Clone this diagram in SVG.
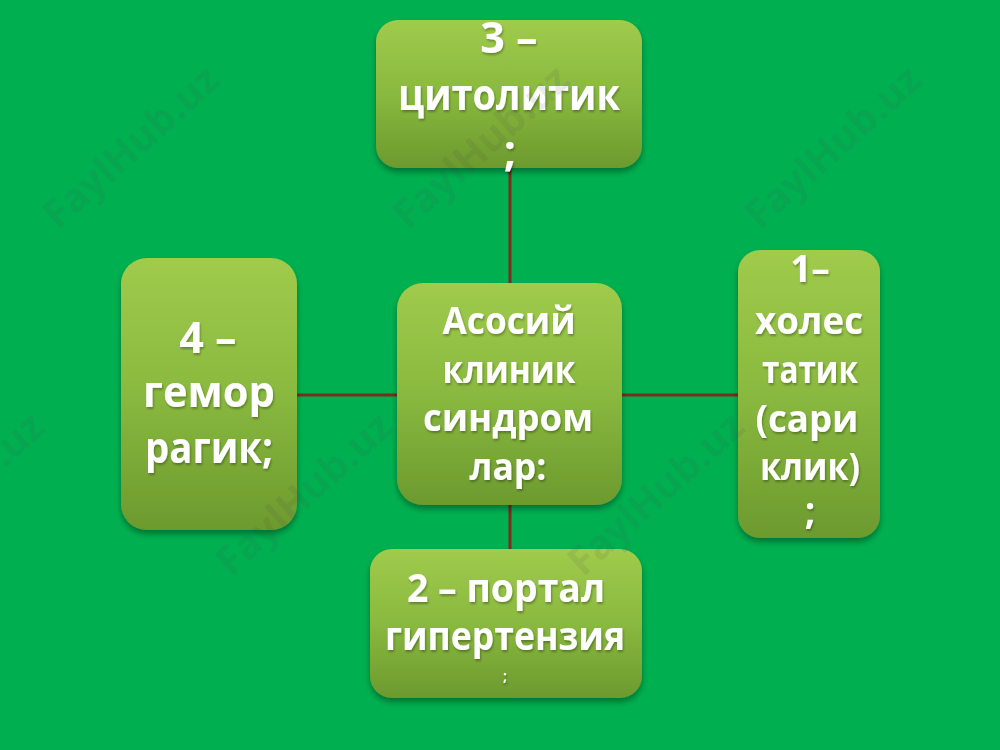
<svg xmlns="http://www.w3.org/2000/svg" width="1000" height="750" viewBox="0 0 1000 750">
<defs>
<linearGradient id="g" x1="0" y1="0" x2="0" y2="1">
<stop offset="0" stop-color="#a0cb4c"/>
<stop offset="0.5" stop-color="#89b93f"/>
<stop offset="1" stop-color="#6c9a2e"/>
</linearGradient>
<filter id="sh" x="-10%" y="-10%" width="120%" height="125%">
<feDropShadow dx="0" dy="4" stdDeviation="3" flood-color="#000" flood-opacity="0.35"/>
</filter>
<filter id="ts" x="-5%" y="-5%" width="110%" height="120%">
<feDropShadow dx="1" dy="2" stdDeviation="1" flood-color="#000" flood-opacity="0.3"/>
</filter>
</defs>
<style>
.box{fill:url(#g);filter:url(#sh)}
.t{font-family:"Open Sans","Noto Sans","DejaVu Sans",sans-serif;font-weight:bold;fill:#fff;text-anchor:middle;filter:url(#ts)}
.wm{font-family:"Open Sans","Liberation Sans",sans-serif;font-weight:bold;font-size:40px;fill:#4a4a4a;opacity:0.1;text-anchor:middle}
.c{stroke:#7a2e1c;stroke-width:3;fill:none}
</style>
<rect width="1000" height="750" fill="#00b050"/>
<g id="connectors">
<line class="c" x1="510" y1="166" x2="510" y2="285"/>
<line class="c" x1="510" y1="503" x2="510" y2="551"/>
<line class="c" x1="295" y1="395" x2="399" y2="395"/>
<line class="c" x1="620" y1="395" x2="740" y2="395"/>
</g>
<g id="n3">
<rect class="box" x="376" y="20" width="266" height="148" rx="22"/>
<text class="t" x="509" y="53" font-size="43">3 –</text>
<text class="t" x="509" y="110" font-size="43" textLength="222" lengthAdjust="spacingAndGlyphs">цитолитик</text>
<text class="t" x="510" y="166" font-size="43">;</text>
</g>
<g id="n0">
<rect class="box" x="397" y="283" width="225" height="222" rx="26"/>
<text class="t" x="509" y="334" font-size="38" textLength="133" lengthAdjust="spacingAndGlyphs">Асосий</text>
<text class="t" x="509" y="383" font-size="38" textLength="133" lengthAdjust="spacingAndGlyphs">клиник</text>
<text class="t" x="508" y="431" font-size="38" textLength="170" lengthAdjust="spacingAndGlyphs">синдром</text>
<text class="t" x="508" y="480" font-size="38" textLength="77" lengthAdjust="spacingAndGlyphs">лар:</text>
</g>
<g id="n1">
<rect class="box" x="738" y="250" width="142" height="288" rx="22"/>
<text class="t" x="810" y="282" font-size="37">1–</text>
<text class="t" x="809" y="334" font-size="37" textLength="108" lengthAdjust="spacingAndGlyphs">холес</text>
<text class="t" x="810" y="383" font-size="37" textLength="96" lengthAdjust="spacingAndGlyphs">татик</text>
<text class="t" x="807" y="432" font-size="37" textLength="103" lengthAdjust="spacingAndGlyphs">(сари</text>
<text class="t" x="810" y="480" font-size="37" textLength="100" lengthAdjust="spacingAndGlyphs">клик)</text>
<text class="t" x="810" y="524" font-size="37">;</text>
</g>
<g id="n4">
<rect class="box" x="121" y="258" width="176" height="272" rx="26"/>
<text class="t" x="208" y="353" font-size="43">4 –</text>
<text class="t" x="209" y="407" font-size="43" textLength="132" lengthAdjust="spacingAndGlyphs">гемор</text>
<text class="t" x="209" y="463" font-size="43" textLength="128" lengthAdjust="spacingAndGlyphs">рагик;</text>
</g>
<g id="n2">
<rect class="box" x="370" y="549" width="272" height="149" rx="22"/>
<text class="t" x="506" y="602" font-size="40" textLength="198" lengthAdjust="spacingAndGlyphs">2 – портал</text>
<text class="t" x="505" y="650" font-size="40" textLength="240" lengthAdjust="spacingAndGlyphs">гипертензия</text>
<text class="t" x="505" y="681" font-size="14">;</text>
</g>
<g id="watermarks">
<text class="wm" transform="translate(140,157) rotate(-42)">FaylHub.uz</text>
<text class="wm" transform="translate(490,157) rotate(-42)">FaylHub.uz</text>
<text class="wm" transform="translate(842,157) rotate(-42)">FaylHub.uz</text>
<text class="wm" transform="translate(-35,504) rotate(-42)">FaylHub.uz</text>
<text class="wm" transform="translate(313,504) rotate(-42)">FaylHub.uz</text>
<text class="wm" transform="translate(665,504) rotate(-42)">FaylHub.uz</text>
</g>
</svg>
